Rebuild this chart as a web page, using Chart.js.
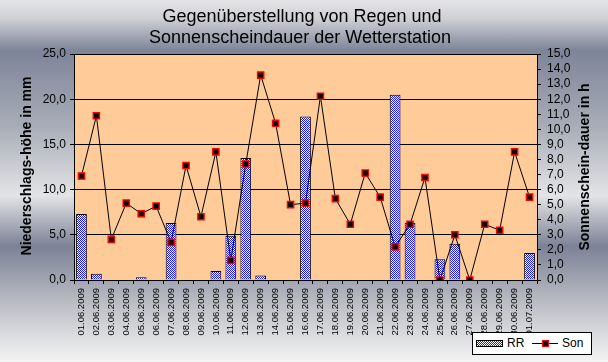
<!DOCTYPE html>
<html><head><meta charset="utf-8">
<script src="https://cdn.jsdelivr.net/npm/chart.js@4"></script>
<style>
html,body{margin:0;padding:0;background:#fff;}
#wrap{position:relative;width:608px;height:362px;overflow:hidden;
background:linear-gradient(to bottom,#e4e4e6 0%,#d0d1d5 5%,#7e8498 14%,#a8adb8 35%,#e4e4e6 54%,#7c8296 68%,#c0c2c8 85%,#f4f4f4 100%);}
#c{position:absolute;left:0;top:0;}
#legend{position:absolute;left:472px;top:332px;width:120px;height:23px;background:#fff;border:1px solid #000;box-sizing:border-box;font:12px "Liberation Sans",Arial,sans-serif;color:#000;}
#legend .sw{position:absolute;left:3px;top:7px;width:27px;height:7px;border:1px solid #000;box-sizing:border-box;background:repeating-conic-gradient(#1a1aff 0 25%,#fff 0 50%) 0 0/2px 2px;}
#legend .t{position:absolute;top:3px;line-height:14px;}
#legend .ln{position:absolute;left:59px;top:10px;width:26px;height:1px;background:#000;}
#legend .mk{position:absolute;left:69px;top:7px;width:7px;height:7px;background:#000;border:1px solid #f00;box-sizing:border-box;}
</style></head>
<body>
<div id="wrap">
<canvas id="c" width="608" height="362"></canvas>
<div id="legend"><div class="sw"></div><div class="t" style="left:34px">RR</div><div class="ln"></div><div class="mk"></div><div class="t" style="left:89px">Son</div></div>
</div>
<script>
const categories = ["01.06.2009","02.06.2009","03.06.2009","04.06.2009","05.06.2009","06.06.2009","07.06.2009","08.06.2009","09.06.2009","10.06.2009","11.06.2009","12.06.2009","13.06.2009","14.06.2009","15.06.2009","16.06.2009","17.06.2009","18.06.2009","19.06.2009","20.06.2009","21.06.2009","22.06.2009","23.06.2009","24.06.2009","25.06.2009","26.06.2009","27.06.2009","28.06.2009","29.06.2009","30.06.2009","01.07.2009"];
const rainRR = [7.3,0.7,0,0,0.3,0,6.3,0,0,1.0,4.9,13.5,0.5,0,0,18.1,0,0,0,0,0,20.5,6.3,0,2.3,4.0,0,0,0,0,3.0];
const sunSon = [6.9,10.9,2.7,5.1,4.4,4.9,2.5,7.6,4.2,8.5,1.3,7.7,13.6,10.4,5.0,5.1,12.2,5.4,3.7,7.1,5.5,2.2,3.7,6.8,0.0,3.0,0.0,3.7,3.3,8.5,5.5];
const titleLines = ["Gegenüberstellung von Regen und","Sonnenscheindauer der Wetterstation"];
const leftTitle = "Niederschlags-höhe in mm";
const rightTitle = "Sonnenschein-dauer in h";

const FONT = '"Liberation Sans", Arial, sans-serif';

const pc = document.createElement('canvas');
pc.width = 2; pc.height = 2;
const px = pc.getContext('2d');
px.fillStyle = '#ffffff'; px.fillRect(0,0,2,2);
px.fillStyle = '#1a1aff'; px.fillRect(0,0,1,1); px.fillRect(1,1,1,1);
const ctx0 = document.getElementById('c').getContext('2d');
const checker = ctx0.createPattern(pc,'repeat');

const fmt = v => Number(v).toFixed(1).replace('.', ',');

const deco = {
  id: 'deco',
  beforeDraw(chart) {
    const {ctx, chartArea:a} = chart;
    ctx.save();
    ctx.fillStyle = '#ffcc99';
    ctx.fillRect(a.left, a.top, a.right - a.left, a.bottom - a.top);
    ctx.restore();
  },
  afterDraw(chart) {
    const ctx = chart.ctx;
    ctx.save();
    ctx.fillStyle = '#000';
    ctx.textAlign = 'center';
    ctx.textBaseline = 'middle';
    ctx.font = '18px ' + FONT;
    ctx.fillText(titleLines[0], 302, 17);
    ctx.fillText(titleLines[1], 300, 38);
    ctx.font = 'bold 14px ' + FONT;
    ctx.save(); ctx.translate(27, 166); ctx.rotate(-Math.PI/2); ctx.fillText(leftTitle, 0, 0); ctx.restore();
    ctx.save(); ctx.translate(585, 167); ctx.rotate(-Math.PI/2); ctx.fillText(rightTitle, 0, 0); ctx.restore();
    ctx.restore();
  }
};

new Chart(ctx0, {
  data: {
    labels: categories,
    datasets: [
      { type:'line', label:'Son', data: sunSon, yAxisID:'y1', order:0,
        borderColor:'#000', borderWidth:1, tension:0,
        pointStyle:'rect', pointRadius:4.4, pointBackgroundColor:'#000', pointBorderColor:'#ff0000', pointBorderWidth:1.4 },
      { type:'bar', label:'RR', data: rainRR, yAxisID:'y', order:1,
        backgroundColor: checker, borderColor:'#000', borderWidth:1, borderSkipped:'bottom',
        categoryPercentage:1, barPercentage:0.72 }
    ]
  },
  options: {
    responsive:false, animation:false, devicePixelRatio:1,
    layout:{ padding:{ top:54, left:0, right:0, bottom:0 } },
    plugins:{ legend:{display:false}, title:{display:false}, tooltip:{enabled:false} },
    scales:{
      x:{ offset:true,
        grid:{ offset:true, drawOnChartArea:false, color:'#000', tickLength:4, tickWidth:1 },
        border:{ display:true, color:'#000', width:1 },
        ticks:{ minRotation:90, maxRotation:90, autoSkip:false, padding:4, color:'#000', font:{ family:FONT, size:9.5 } },
        afterFit(s){ s.height = 82; } },
      y:{ position:'left', min:0, max:25,
        ticks:{ stepSize:5, callback:fmt, padding:4, autoSkip:false, color:'#000', font:{ family:FONT, size:12 } },
        grid:{ color:'#000', lineWidth:1, tickLength:4 },
        border:{ display:true, color:'#000', width:1 },
        afterFit(s){ s.width = 74; } },
      y1:{ position:'right', min:0, max:15,
        ticks:{ stepSize:1, callback:fmt, padding:6, autoSkip:false, color:'#000', font:{ family:FONT, size:12 } },
        grid:{ drawOnChartArea:false, color:'#000', tickLength:4 },
        border:{ display:true, color:'#000', width:1 },
        afterFit(s){ s.width = 71; } }
    }
  },
  plugins:[deco]
});
</script>
</body></html>
